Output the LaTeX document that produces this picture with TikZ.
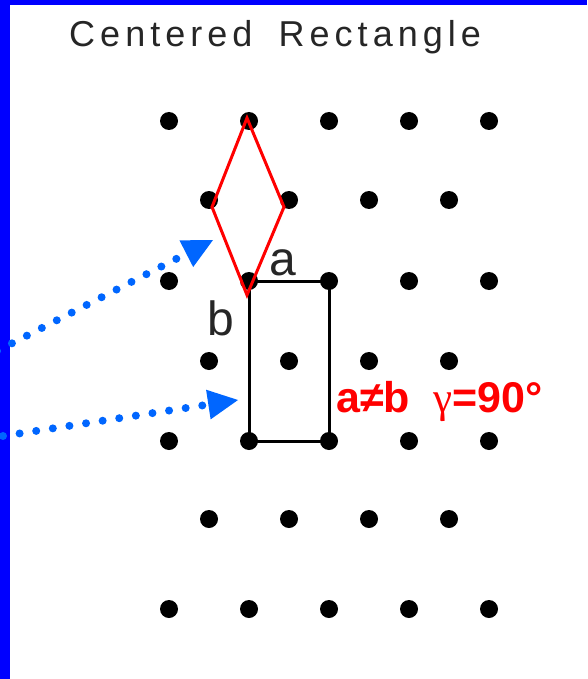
\documentclass[tikz,border=0pt]{standalone}
\usepackage{fontspec}
\setmainfont{Liberation Sans}
\newfontfamily\titlefont[LetterSpace=14]{Liberation Sans}
\newfontfamily\greekfont{Liberation Serif}
\usetikzlibrary{arrows.meta,positioning}
\definecolor{framebar}{RGB}{0,0,255}
\definecolor{hintblue}{RGB}{0,102,255}
\definecolor{cellred}{RGB}{255,0,0}

\begin{document}
\begin{tikzpicture}[x=1pt, y=-1pt,
  lattice/.style={circle, fill=black, inner sep=0pt, minimum size=18pt},
  cell/.style={draw=black, line width=3pt},
  prim/.style={draw=cellred, line width=3pt},
  edge/.style={font=\fontsize{48}{48}\selectfont, text=black!85, inner sep=0pt},
  hint/.style={hintblue, line width=8pt, line cap=round,
    dash pattern=on 0pt off 16.8pt,
    -{Triangle[length=30pt, width=30pt, line width=0pt]}}
]
  \useasboundingbox (0,0) rectangle (587,679);
  \fill[framebar] (0,0) rectangle (10,679);
  \fill[framebar] (0,0) rectangle (587,5);
  \node[anchor=base west, inner sep=0pt, text=black!85,
    font=\titlefont\fontsize{36}{36}\selectfont] (title) at (69,47)
    {Centered\hspace{11pt} Rectangle};
  \foreach \y/\r in {121/1, 281/3, 441/5, 609/7}
    \foreach \c in {0,...,4}
      \node[lattice] (d\r\c) at ({169+80*\c},\y) {};
  \foreach \y/\r in {200/2, 361/4, 519/6}
    \foreach \c in {0,...,3}
      \node[lattice] (d\r\c) at ({209+80*\c},\y) {};
  \draw[cell] (d31.center) -- (d32.center) -- (d52.center) -- (d51.center) -- cycle;
  \draw[prim] (247,118) -- (284,207) -- (247,295) -- (212,207) -- cycle;
  \node[edge] (a) at (283,263) {a};
  \node[edge] (b) at (221,318) {b};
  \node[anchor=base west, inner sep=0pt, text=cellred,
    font=\bfseries\fontsize{43}{43}\selectfont] (rule) at (336,412)
    {a≠b\ \ {\greekfont\mdseries γ}=90°};
  \coordinate (s1) at (-3,351);
  \coordinate (t1) at (213,240);
  \coordinate (s2) at (3,436);
  \coordinate (t2) at (238,400);
  \draw[hint] (s1) -- (t1);
  \draw[hint] (s2) -- (t2);
\end{tikzpicture}
\end{document}
